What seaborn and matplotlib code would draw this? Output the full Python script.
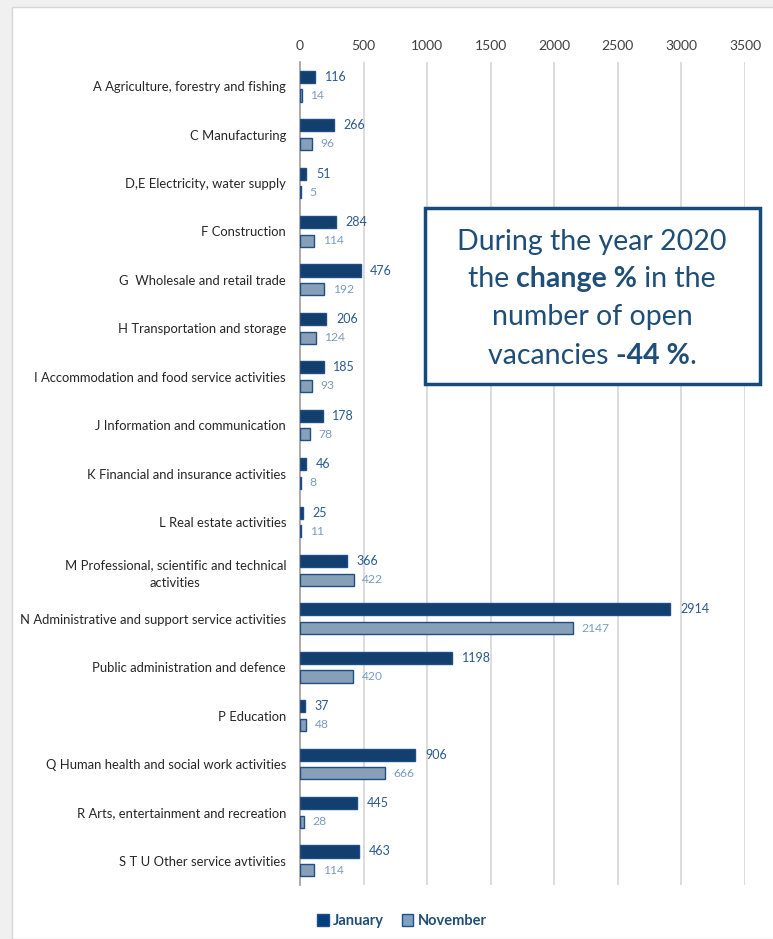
import seaborn as sns
import matplotlib.pyplot as plt
import pandas as pd
from matplotlib.patches import Rectangle, Patch

# Data
categories = [
    'A Agriculture, forestry and fishing',
    'C Manufacturing',
    'D,E Electricity, water supply',
    'F Construction',
    'G  Wholesale and retail trade',
    'H Transportation and storage',
    'I Accommodation and food service activities',
    'J Information and communication',
    'K Financial and insurance activities',
    'L Real estate activities',
    'M Professional, scientific and technical\nactivities',
    'N Administrative and support service activities',
    'Public administration and defence',
    'P Education',
    'Q Human health and social work activities',
    'R Arts, entertainment and recreation',
    'S T U Other service avtivities',
]
january = [116, 266, 51, 284, 476, 206, 185, 178, 46, 25, 366, 2914, 1198, 37, 906, 445, 463]
november = [14, 96, 5, 114, 192, 124, 93, 78, 8, 11, 422, 2147, 420, 48, 666, 28, 114]
months = ['January', 'November']
x_ticks = [0, 500, 1000, 1500, 2000, 2500, 3000, 3500]

df = pd.DataFrame({
    'Category': categories * 2,
    'Vacancies': january + november,
    'Month': [months[0]] * len(categories) + [months[1]] * len(categories),
})

NAVY = '#033f7c'
LIGHT = '#7fa0bf'
EDGE = '#1f4e87'

sns.set_style('white')
plt.rcParams['font.family'] = ['Lato', 'DejaVu Sans']

fig = plt.figure(figsize=(7.73, 9.39), dpi=100, facecolor='#f0f0f0')
fig.patches.append(Rectangle((12 / 773, 0), 1, 1 - 7 / 939, transform=fig.transFigure,
                             facecolor='white', edgecolor='#d6d6d6', linewidth=1, zorder=-1))
ax = fig.add_axes([300 / 773, 1 - 885 / 939, 445 / 773, (885 - 62) / 939])
ax.set_facecolor('none')

sns.barplot(data=df, y='Category', x='Vacancies', hue='Month', orient='h',
            palette=[NAVY, LIGHT], width=0.77, gap=0.35, edgecolor=EDGE,
            linewidth=1, legend=False, ax=ax, zorder=3)

ax.set_xlim(0, 3500)
ax.set_ylim(len(categories) - 0.5, -0.5)
ax.set_xticks(x_ticks)
ax.xaxis.tick_top()
ax.tick_params(axis='x', length=0, labelsize=10, labelcolor='#404040', pad=7)
ax.tick_params(axis='y', length=0, labelsize=9.4, labelcolor='#262626', pad=10)
for lbl in ax.get_yticklabels():
    lbl.set_multialignment('center')
    lbl.set_linespacing(1.55)
ax.grid(axis='x', color='#d9d9d9', linewidth=1.3, zorder=0)
ax.set_xlabel('')
ax.set_ylabel('')
for s in ['top', 'right', 'bottom']:
    ax.spines[s].set_visible(False)
ax.spines['left'].set_color('#a6a6a6')
ax.spines['left'].set_linewidth(1.3)

ax.bar_label(ax.containers[0], padding=7, fontsize=9, color='#2a5a90')
ax.bar_label(ax.containers[1], padding=6, fontsize=8.7, color='#7a9bc0')

# Legend
handles = [Patch(facecolor=NAVY, edgecolor=EDGE), Patch(facecolor=LIGHT, edgecolor=EDGE)]
leg = fig.legend(handles, months, loc='center', bbox_to_anchor=(402 / 773, 1 - 921 / 939),
                 ncol=2, frameon=False, handlelength=0.8, handleheight=0.8,
                 handletextpad=0.3, columnspacing=1.2,
                 prop={'size': 10.5, 'weight': 'bold'})
for t in leg.get_texts():
    t.set_color('#1f4e79')

# Text box
fig.patches.append(Rectangle((425 / 773, 1 - 384 / 939), 335 / 773, 176 / 939,
                             transform=fig.transFigure, facecolor='white',
                             edgecolor='#174a7c', linewidth=2.5, zorder=5))
lines = [
    [('During the year 2020', 'normal')],
    [('the ', 'normal'), ('change %', 'bold'), (' in the', 'normal')],
    [('number of open', 'normal')],
    [('vacancies ', 'normal'), ('-44 %', 'bold'), ('.', 'normal')],
]
line_y = [242, 279, 317, 356]
cx = 592
fig.canvas.draw()
renderer = fig.canvas.get_renderer()
for parts, yy in zip(lines, line_y):
    texts = []
    for s, w in parts:
        t = fig.text(0, 1 - yy / 939, s, fontsize=20.5, fontweight=w, color='#1f4e79',
                     va='center', ha='left', zorder=6)
        texts.append(t)
    widths = [t.get_window_extent(renderer).width for t in texts]
    x0 = cx - sum(widths) / 2
    for t, wd in zip(texts, widths):
        t.set_x(x0 / 773)
        x0 += wd

plt.savefig('out.png', dpi=100, facecolor=fig.get_facecolor())
